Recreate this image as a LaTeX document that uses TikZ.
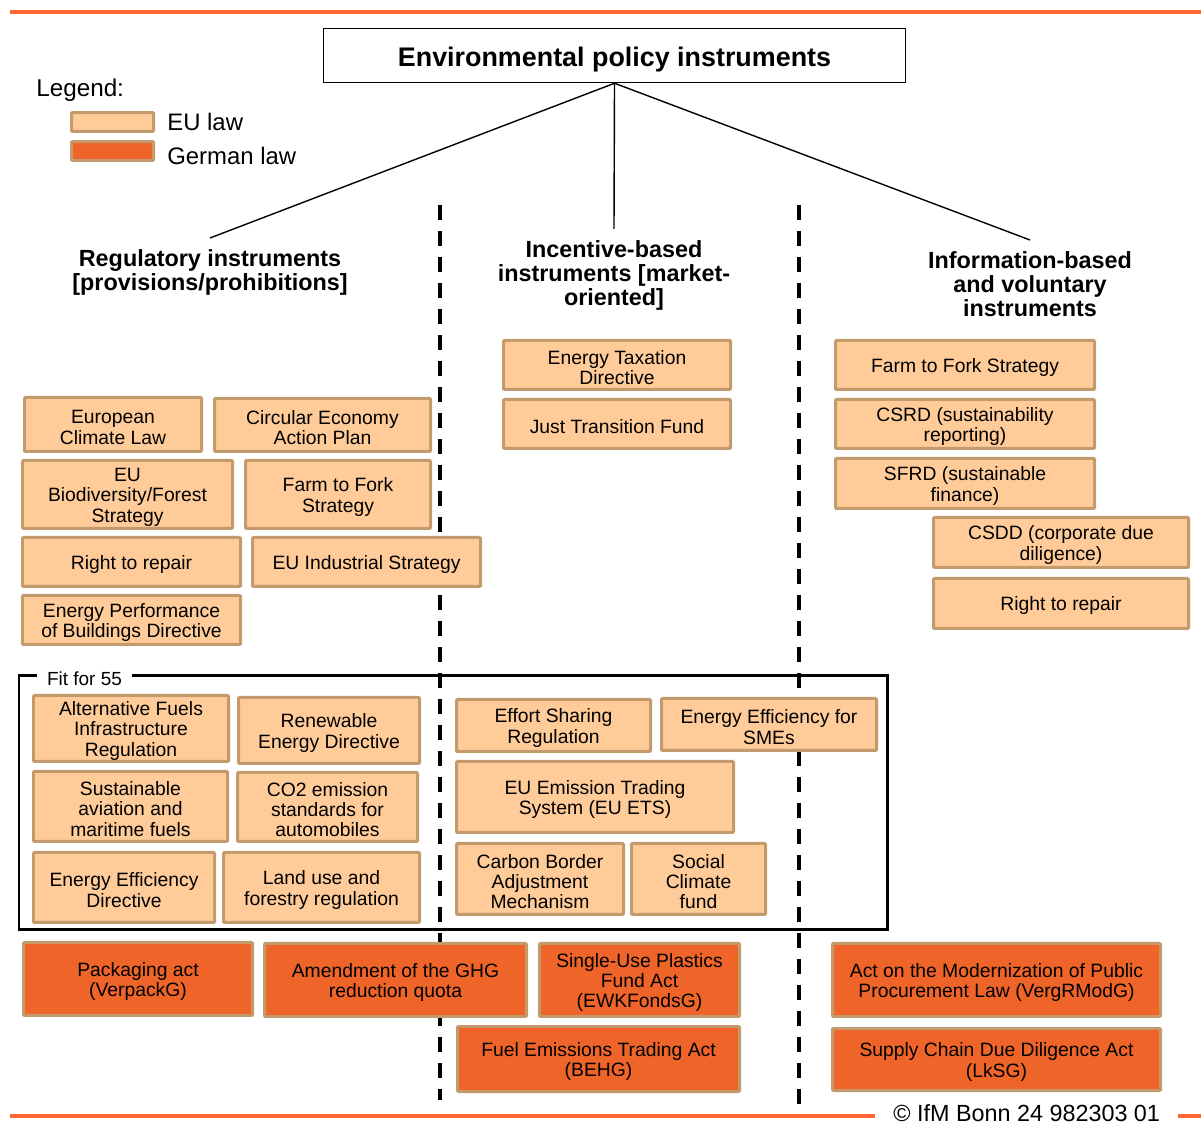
\documentclass[tikz,border=0pt]{standalone}
\usepackage{fontspec}
\setmainfont{Liberation Sans}
\definecolor{eufill}{HTML}{FFCC99}
\definecolor{eudraw}{HTML}{C39A6B}
\definecolor{defill}{HTML}{EE6429}
\definecolor{topline}{HTML}{FF6633}
\newcommand\mkbox[7]{\node[#1, minimum width={(#5-#3-3)*0.02cm}, minimum height={(#6-#4-3)*0.02cm}] (#2) at ({(#3+#5)/2},{(#4+#6)/2}) {\rule{0pt}{10.8pt}#7};}
\tikzset{
  lawbox/.style={draw=eudraw, line width=0.06cm, inner sep=0pt, align=center, rounded corners=0.02cm,
    font=\fontsize{11}{11.6}\selectfont},
  eubox/.style={lawbox, fill=eufill},
  debox/.style={lawbox, fill=defill},
  head/.style={font=\bfseries\fontsize{13.3}{13.6}\selectfont, align=center, inner xsep=0pt, inner ysep=0.22cm, anchor=north},
  conn/.style={line width=0.028cm, black},
  divider/.style={line width=0.08cm, dash pattern=on 0.3cm off 0.22cm},
  orangeline/.style={line width=0.08cm, topline},
}
\begin{document}
\begin{tikzpicture}[x=0.02cm, y=-0.02cm]
\useasboundingbox (0,0) rectangle (1201,1124);
% top and bottom rules
\draw[orangeline] (10,12) -- (1201,12);
\draw[orangeline] (10,1116) -- (875,1116);
\draw[orangeline] (1178,1116) -- (1201,1116);
\node[anchor=base west, inner sep=0pt, font=\fontsize{13.3}{15}\selectfont] (copy) at (893,1121.5) {© IfM Bonn 24 982303 01};
% dividers
\draw[divider] (440,205) -- (440,1100);
\draw[divider] (799,205) -- (799,1108);
% title
\node[draw, line width=0.03cm, minimum width={582*0.02cm}, minimum height={54*0.02cm}, text height=0.54cm, text depth=0.11cm, font=\bfseries\fontsize{15.3}{16}\selectfont] (title) at (614.5,55.5) {Environmental policy instruments};
% legend
\node[anchor=west, inner sep=0pt, font=\fontsize{13.8}{15}\selectfont] (legend) at (36,90) {Legend:};
\mkbox{eubox}{legeu}{70}{112}{155}{132}{}
\mkbox{debox}{legde}{70}{141}{155}{161}{}
\node[anchor=west, inner sep=0pt, font=\fontsize{13.6}{15}\selectfont] (legeut) at (167,122) {EU law};
\node[anchor=west, inner sep=0pt, font=\fontsize{13.6}{15}\selectfont] (legdet) at (167,156) {German law};
% headings
\node[head] (reg) at (210,238) {Regulatory instruments\\{}[provisions/prohibitions]};
\node[head] (inc) at (614,229) {Incentive-based\\instruments [market-\\oriented]};
\node[head] (inf) at (1030,240) {Information-based\\and voluntary\\instruments};
\draw[conn] (title.south) -- (reg.north);
\draw[conn] (title.south) -- (inc.north);
\draw[conn] (title.south) -- (inf.north);
% regulatory
\mkbox{eubox}{ecl}{23}{396}{203}{453}{European\\Climate Law}
\mkbox{eubox}{ceap}{213}{397}{432}{453}{Circular Economy\\Action Plan}
\mkbox{eubox}{bio}{21}{459}{234}{530}{EU\\Biodiversity/Forest\\Strategy}
\mkbox{eubox}{f2fl}{244}{459}{432}{530}{Farm to Fork\\Strategy}
\mkbox{eubox}{r2rl}{21}{536}{242}{588}{Right to repair}
\mkbox{eubox}{eis}{251}{536}{482}{588}{EU Industrial Strategy}
\mkbox{eubox}{epbd}{21}{594}{242}{646}{Energy Performance\\of Buildings Directive}
% incentive
\mkbox{eubox}{etd}{502}{339}{732}{391}{Energy Taxation\\Directive}
\mkbox{eubox}{jtf}{502}{398}{732}{450}{Just Transition Fund}
% information
\mkbox{eubox}{f2fr}{834}{339}{1096}{391}{Farm to Fork Strategy}
\mkbox{eubox}{csrd}{834}{398}{1096}{450}{CSRD (sustainability\\reporting)}
\mkbox{eubox}{sfrd}{834}{457}{1096}{510}{SFRD (sustainable\\finance)}
\mkbox{eubox}{csdd}{932}{516}{1190}{569}{CSDD (corporate due\\diligence)}
\mkbox{eubox}{r2rr}{932}{577}{1190}{630}{Right to repair}
% Fit for 55
\draw[line width=0.06cm] (19,676) rectangle (887,930);
\node[fill=white, inner xsep=0.2cm, inner ysep=0pt, font=\fontsize{10.8}{11.4}\selectfont] (fitlabel) at (84.5,679) {Fit for 55};
\mkbox{eubox}{afir}{32}{694}{230}{763}{Alternative Fuels\\Infrastructure\\Regulation}
\mkbox{eubox}{red}{237}{696}{421}{765}{Renewable\\Energy Directive}
\mkbox{eubox}{saf}{32}{770}{229}{843}{Sustainable\\aviation and\\maritime fuels}
\mkbox{eubox}{co2}{236}{771}{419}{843}{CO2 emission\\standards for\\automobiles}
\mkbox{eubox}{eed}{32}{851}{216}{924}{Energy Efficiency\\Directive}
\mkbox{eubox}{lulucf}{222}{851}{421}{924}{Land use and\\forestry regulation}
\mkbox{eubox}{esr}{455}{698}{652}{753}{Effort Sharing\\Regulation}
\mkbox{eubox}{eesme}{660}{697}{878}{752}{Energy Efficiency for\\SMEs}
\mkbox{eubox}{ets}{455}{760}{735}{834}{EU Emission Trading\\System (EU ETS)}
\mkbox{eubox}{cbam}{455}{842}{625}{916}{Carbon Border\\Adjustment\\Mechanism}
\mkbox{eubox}{scf}{630}{842}{767}{916}{Social\\Climate\\fund}
% German law
\mkbox{debox}{verpackg}{22}{941}{254}{1017}{Packaging act\\(VerpackG)}
\mkbox{debox}{ghg}{263}{942}{528}{1018}{Amendment of the GHG\\reduction quota}
\mkbox{debox}{ewk}{538}{942}{741}{1018}{Single-Use Plastics\\Fund Act\\(EWKFondsG)}
\mkbox{debox}{behg}{456}{1025}{741}{1093}{Fuel Emissions Trading Act\\(BEHG)}
\mkbox{debox}{vergr}{831}{942}{1162}{1018}{Act on the Modernization of Public\\Procurement Law (VergRModG)}
\mkbox{debox}{lksg}{831}{1027}{1162}{1092}{Supply Chain Due Diligence Act\\(LkSG)}
\end{tikzpicture}
\end{document}
